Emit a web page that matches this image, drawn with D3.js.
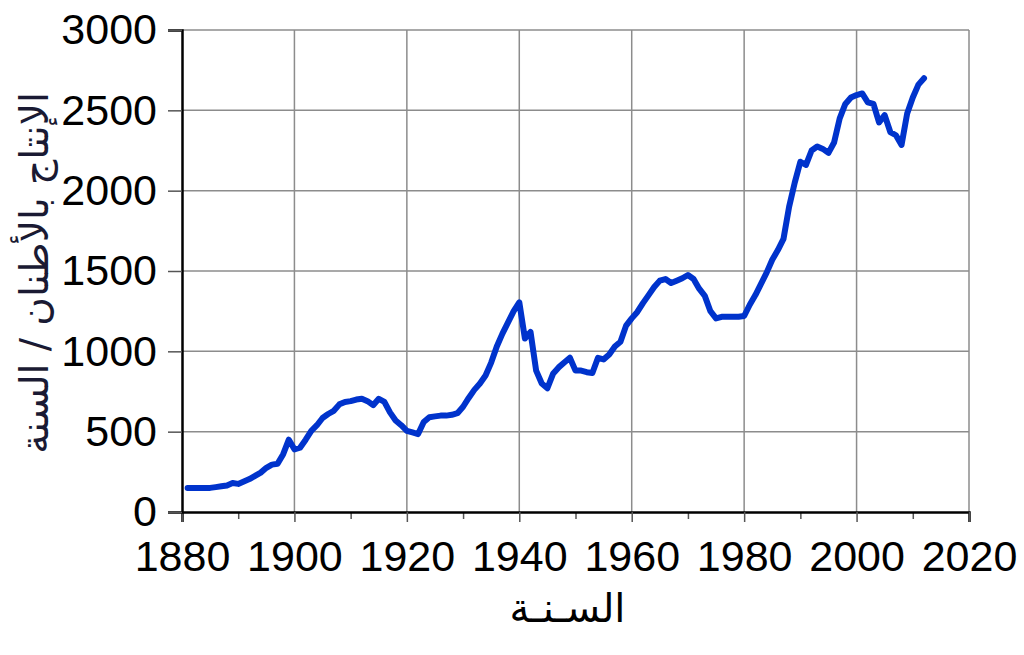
<!DOCTYPE html>
<html lang="ar">
<head>
  <meta charset="UTF-8">
  <title>الإنتاج بالأطنان</title>
  <script src="https://cdn.jsdelivr.net/npm/d3@7"></script>
  <style>
    body { margin: 0; background: #fff; }
    .tick text { font-family: "Liberation Sans", Arial, sans-serif; }
    .title { font-family: "DejaVu Sans", sans-serif; }
  </style>
</head>
<body>
<div id="viz"></div>
<script>
  // years and production (tons / year)
  var years = [
    1881, 1882, 1883, 1884, 1885, 1886, 1887, 1888, 1889, 1890,
    1891, 1892, 1893, 1894, 1895, 1896, 1897, 1898, 1899, 1900,
    1901, 1902, 1903, 1904, 1905, 1906, 1907, 1908, 1909, 1910,
    1911, 1912, 1913, 1914, 1915, 1916, 1917, 1918, 1919, 1920,
    1921, 1922, 1923, 1924, 1925, 1926, 1927, 1928, 1929, 1930,
    1931, 1932, 1933, 1934, 1935, 1936, 1937, 1938, 1939, 1940,
    1941, 1942, 1943, 1944, 1945, 1946, 1947, 1948, 1949, 1950,
    1951, 1952, 1953, 1954, 1955, 1956, 1957, 1958, 1959, 1960,
    1961, 1962, 1963, 1964, 1965, 1966, 1967, 1968, 1969, 1970,
    1971, 1972, 1973, 1974, 1975, 1976, 1977, 1978, 1979, 1980,
    1981, 1982, 1983, 1984, 1985, 1986, 1987, 1988, 1989, 1990,
    1991, 1992, 1993, 1994, 1995, 1996, 1997, 1998, 1999, 2000,
    2001, 2002, 2003, 2004, 2005, 2006, 2007, 2008, 2009, 2010,
    2011, 2012
  ];
  var production = [
    150, 150, 150, 150, 150, 155, 160, 165, 180, 175,
    190, 205, 225, 245, 275, 295, 300, 360, 450, 390,
    400, 450, 505, 540, 585, 610, 630, 670, 685, 690,
    700, 705, 690, 665, 705, 685, 620, 570, 540, 505,
    495, 485, 560, 590, 595, 600, 600, 605, 615, 655,
    710, 760, 800, 850, 930, 1030, 1110, 1180, 1250, 1305,
    1080, 1120, 880, 800, 770, 860, 900, 930, 960, 880,
    880, 870, 865, 960, 950, 980, 1030, 1060, 1160, 1205,
    1245, 1300, 1350, 1400, 1440, 1450, 1425, 1440, 1455, 1475,
    1450, 1390, 1345, 1250, 1205, 1215, 1215, 1215, 1215, 1220,
    1290, 1350, 1420, 1490, 1570, 1630, 1700, 1900, 2050, 2180,
    2160, 2250, 2275, 2260, 2235, 2300, 2450, 2540, 2580, 2595,
    2605, 2550, 2540, 2425, 2470, 2365, 2345, 2285, 2480, 2580,
    2660, 2700
  ];
  var xTicks = [1880, 1900, 1920, 1940, 1960, 1980, 2000, 2020];
  var xMinorTicks = [1890, 1910, 1930, 1950, 1970, 1990, 2010];
  var yTicks = [0, 500, 1000, 1500, 2000, 2500, 3000];

  var yTitle = "الإنتاج بالأطنان / السنة";
  var xTitle = "السـنـة";

  var width = 1024;
  var height = 655;
  var margin = { top: 30, right: 55, bottom: 143, left: 182 };
  var innerW = width - margin.left - margin.right;
  var innerH = height - margin.top - margin.bottom;

  var data = years.map(function(y, i) {
    return { year: y, value: production[i] };
  });

  var svg = d3.select("#viz").append("svg")
    .attr("width", width)
    .attr("height", height);

  var g = svg.append("g")
    .attr("transform", "translate(" + margin.left + "," + margin.top + ")");

  var x = d3.scaleLinear().domain([1880, 2020]).range([0, innerW]);
  var y = d3.scaleLinear().domain([0, 3000]).range([innerH, 0]);

  // grid
  g.append("g")
    .selectAll("line.hgrid")
    .data(yTicks.slice(1))
    .enter().append("line")
    .attr("x1", 0).attr("x2", innerW)
    .attr("y1", function(d) { return y(d); })
    .attr("y2", function(d) { return y(d); })
    .attr("stroke", "#8c8c8c")
    .attr("stroke-width", 1.5);

  g.append("g")
    .selectAll("line.vgrid")
    .data(xTicks.slice(1))
    .enter().append("line")
    .attr("x1", function(d) { return x(d); })
    .attr("x2", function(d) { return x(d); })
    .attr("y1", 0).attr("y2", innerH)
    .attr("stroke", "#8c8c8c")
    .attr("stroke-width", 1.5);

  // minor ticks on x axis
  g.append("g")
    .attr("transform", "translate(0," + innerH + ")")
    .call(d3.axisBottom(x).tickValues(xMinorTicks).tickSize(7).tickFormat(""))
    .call(function(a) {
      a.select(".domain").remove();
      a.selectAll("line").attr("stroke", "#555").attr("stroke-width", 1.5);
    });

  // x axis
  g.append("g")
    .attr("transform", "translate(0," + innerH + ")")
    .call(d3.axisBottom(x).tickValues(xTicks).tickSize(10).tickPadding(18).tickFormat(d3.format("d")))
    .call(function(a) {
      a.select(".domain").attr("stroke", "#000").attr("stroke-width", 2.5);
      a.selectAll("line").attr("stroke", "#555").attr("stroke-width", 1.5);
      a.selectAll("text").attr("font-size", 43).attr("fill", "#000");
    });

  // y axis
  g.append("g")
    .call(d3.axisLeft(y).tickValues(yTicks).tickSize(14).tickPadding(11).tickFormat(d3.format("d")))
    .call(function(a) {
      a.select(".domain").attr("stroke", "#000").attr("stroke-width", 2.5);
      a.selectAll("line").attr("stroke", "#555").attr("stroke-width", 1.5);
      a.selectAll("text").attr("font-size", 43).attr("fill", "#000");
    });

  // the series
  var line = d3.line()
    .x(function(d) { return x(d.year); })
    .y(function(d) { return y(d.value); });

  g.append("path")
    .datum(data)
    .attr("fill", "none")
    .attr("stroke", "#0033cc")
    .attr("stroke-width", 6)
    .attr("stroke-linejoin", "round")
    .attr("stroke-linecap", "round")
    .attr("d", line);

  // axis titles
  svg.append("text")
    .attr("class", "title")
    .attr("transform", "translate(34," + (margin.top + innerH / 2 + 2) + ") rotate(-90)")
    .attr("text-anchor", "middle")
    .attr("dominant-baseline", "central")
    .attr("direction", "rtl")
    .attr("font-size", 39)
    .attr("fill", "#1a1a33")
    .text(yTitle);

  svg.append("text")
    .attr("class", "title")
    .attr("x", margin.left + innerW / 2 - 8)
    .attr("y", 622)
    .attr("text-anchor", "middle")
    .attr("direction", "rtl")
    .attr("font-size", 40)
    .attr("fill", "#000")
    .text(xTitle);
</script>
</body>
</html>
